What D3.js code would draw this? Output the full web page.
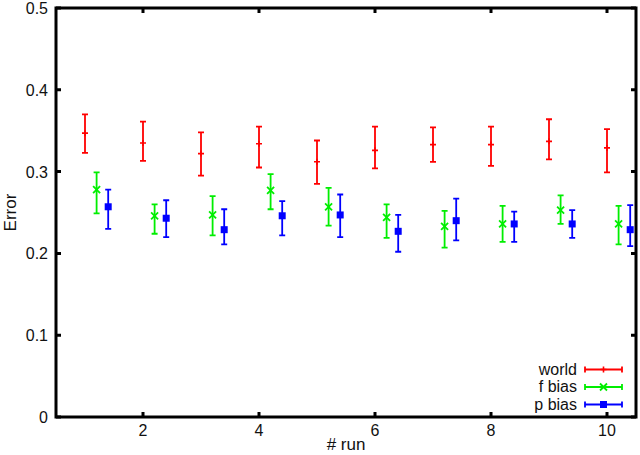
<!DOCTYPE html>
<html>
<head>
<meta charset="utf-8">
<script src="https://cdn.jsdelivr.net/npm/d3@7"></script>
<style>
  body { margin: 0; background: #fff; }
  text { font-family: "Liberation Sans", Arial, sans-serif; fill: #111; }
</style>
</head>
<body>
<div id="chart"></div>
<script>
// runs on the x axis
const runs = [1, 2, 3, 4, 5, 6, 7, 8, 9, 10]

// world: mean, low, high
const worldMean = [0.347, 0.335, 0.322, 0.334, 0.312, 0.326, 0.333, 0.333, 0.337, 0.329]
const worldLow  = [0.323, 0.313, 0.295, 0.305, 0.285, 0.304, 0.312, 0.307, 0.315, 0.299]
const worldHigh = [0.370, 0.361, 0.348, 0.355, 0.338, 0.355, 0.354, 0.355, 0.364, 0.352]

// f bias
const fMean = [0.278, 0.246, 0.247, 0.277, 0.257, 0.244, 0.233, 0.236, 0.253, 0.236]
const fLow  = [0.249, 0.224, 0.222, 0.254, 0.234, 0.219, 0.207, 0.214, 0.236, 0.211]
const fHigh = [0.299, 0.260, 0.270, 0.297, 0.280, 0.260, 0.252, 0.258, 0.271, 0.258]

// p bias
const pMean = [0.257, 0.243, 0.229, 0.246, 0.247, 0.227, 0.240, 0.236, 0.236, 0.229]
const pLow  = [0.230, 0.220, 0.211, 0.222, 0.220, 0.202, 0.216, 0.214, 0.219, 0.209]
const pHigh = [0.278, 0.265, 0.254, 0.264, 0.272, 0.247, 0.267, 0.251, 0.253, 0.259]

const yTicks = [0, 0.1, 0.2, 0.3, 0.4, 0.5]
const xTicks = [2, 4, 6, 8, 10]

const series = [
    { name: "world",  color: "#ff0000", offset: 0,   marker: "plus",   mean: worldMean, low: worldLow, high: worldHigh },
    { name: "f bias", color: "#00ee00", offset: 0.2, marker: "cross",  mean: fMean,     low: fLow,     high: fHigh },
    { name: "p bias", color: "#0000ff", offset: 0.4, marker: "square", mean: pMean,     low: pLow,     high: pHigh }
]

const width = 640
const height = 455
const marginTop = 8
const marginRight = 4
const marginBottom = 38
const marginLeft = 56

const x = d3.scaleLinear([0.5, 10.5], [marginLeft, width - marginRight])
const y = d3.scaleLinear([0, 0.5], [height - marginBottom, marginTop])

const svg = d3.select("#chart")
    .append("svg")
    .attr("width", width)
    .attr("height", height)
    .attr("viewBox", [0, 0, width, height])

const tickLen = 5

// mirrored inward ticks, gnuplot style
const axes = svg.append("g").attr("stroke", "#000").attr("stroke-width", 3)
axes.selectAll(".yt")
    .data(yTicks)
    .join("path")
    .attr("d", d => `M${x(0.5)},${y(d)}h${tickLen}M${x(10.5)},${y(d)}h${-tickLen}`)
axes.selectAll(".xt")
    .data(xTicks)
    .join("path")
    .attr("d", d => `M${x(d)},${y(0)}v${-tickLen}M${x(d)},${y(0.5)}v${tickLen}`)
axes.append("rect")
    .attr("x", x(0.5))
    .attr("y", y(0.5))
    .attr("width", x(10.5) - x(0.5))
    .attr("height", y(0) - y(0.5))
    .attr("fill", "none")

// tick labels
svg.append("g")
    .attr("font-size", 16)
    .attr("text-anchor", "end")
    .selectAll("text")
    .data(yTicks)
    .join("text")
    .attr("x", x(0.5) - 8)
    .attr("y", d => y(d) + 6)
    .text(d => d3.format("~g")(d))

svg.append("g")
    .attr("font-size", 16)
    .attr("text-anchor", "middle")
    .selectAll("text")
    .data(xTicks)
    .join("text")
    .attr("x", d => x(d))
    .attr("y", y(0) + 19)
    .text(d => d)

svg.append("text")
    .attr("font-size", 17)
    .attr("text-anchor", "middle")
    .attr("transform", `translate(16,${(y(0) + y(0.5)) / 2}) rotate(-90)`)
    .text("Error")

svg.append("text")
    .attr("font-size", 17)
    .attr("text-anchor", "middle")
    .attr("x", (x(0.5) + x(10.5)) / 2)
    .attr("y", height - 5)
    .text("# run")

const cap = 3

const drawMarker = (g, kind, cx, cy, color) => {
    if (kind === "plus") {
        g.append("path")
            .attr("d", `M${cx - 3},${cy}h6M${cx},${cy - 3}v6`)
            .attr("stroke", color).attr("stroke-width", 1.6)
    } else if (kind === "cross") {
        g.append("path")
            .attr("d", `M${cx - 3.5},${cy - 3.5}l7,7M${cx - 3.5},${cy + 3.5}l7,-7`)
            .attr("stroke", color).attr("stroke-width", 1.8)
    } else {
        g.append("rect")
            .attr("x", cx - 3.5).attr("y", cy - 3.5)
            .attr("width", 7).attr("height", 7)
            .attr("fill", color)
    }
}

// error bars
series.forEach(s => {
    const g = svg.append("g").attr("fill", "none")
    runs.forEach((r, i) => {
        const cx = x(r + s.offset)
        g.append("path")
            .attr("d", `M${cx},${y(s.low[i])}V${y(s.high[i])}` +
                `M${cx - cap},${y(s.low[i])}h${2 * cap}M${cx - cap},${y(s.high[i])}h${2 * cap}`)
            .attr("stroke", s.color)
            .attr("stroke-width", 1.8)
        drawMarker(g, s.marker, cx, y(s.mean[i]), s.color)
    })
})

// legend
const legend = svg.append("g")
series.forEach((s, i) => {
    const ly = 369.5 + i * 17.5
    legend.append("text")
        .attr("font-size", 16)
        .attr("text-anchor", "end")
        .attr("x", 577)
        .attr("y", ly + 5)
        .text(s.name)
    legend.append("path")
        .attr("d", `M585,${ly}H622M585,${ly - cap}v${2 * cap}M622,${ly - cap}v${2 * cap}`)
        .attr("stroke", s.color)
        .attr("stroke-width", 1.8)
    drawMarker(legend, s.marker, 603.5, ly, s.color)
})
</script>
</body>
</html>
